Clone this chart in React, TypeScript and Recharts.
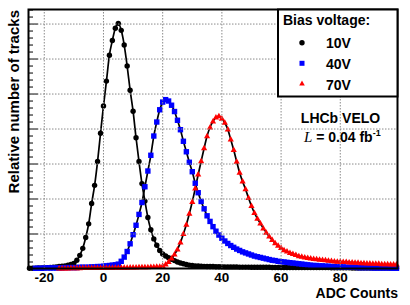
import React from 'react';
import { ComposedChart, Line, XAxis, YAxis } from 'recharts';

// ADC bin centres, -25 .. 99
const adcBins = Array.from({ length: 125 }, (_, i) => i - 25);
const xTicks = [-20, 0, 20, 40, 60, 80];
const yGrid = [1, 2, 3, 4, 5, 6, 7];
const yMinorTicks = Array.from({ length: 37 }, (_, i) => +(0.2 * (i + 1)).toFixed(1));

// 10V
const counts10V = [
  0.02, 0.02, 0.025, 0.03, 0.03, 0.035, 0.04, 0.045, 0.05, 0.06,
  0.07, 0.08, 0.09, 0.11, 0.13, 0.16, 0.25, 0.39, 0.59, 0.9,
  1.29, 1.87, 2.39, 3.07, 3.88, 4.66, 5.37, 6.11, 6.53, 6.88,
  7.02, 6.82, 6.4, 5.8, 5.11, 4.51, 3.75, 3.07, 2.44, 1.94,
  1.47, 1.12, 0.86, 0.68, 0.53, 0.43, 0.37, 0.32, 0.28, 0.24,
  0.2, 0.17, 0.15, 0.13, 0.11, 0.1, 0.09, 0.085, 0.08, 0.075,
  0.07, 0.07, 0.07, 0.065, 0.065, 0.065, 0.06, 0.06, 0.06, 0.06,
  0.06, 0.055, 0.055, 0.055, 0.055, 0.05, 0.05, 0.05, 0.05, 0.05,
  0.05, 0.05, 0.045, 0.045, 0.045, 0.045, 0.045, 0.045, 0.04, 0.04,
  0.04, 0.04, 0.04, 0.04, 0.04, 0.04, 0.04, 0.04, 0.04, 0.04,
  0.04, 0.04, 0.035, 0.035, 0.035, 0.035, 0.035, 0.035, 0.035, 0.03,
  0.03, 0.03, 0.03, 0.03, 0.03, 0.03, 0.03, 0.03, 0.03, 0.03,
  0.03, 0.03, 0.025, 0.025, 0.025,
];

// 40V
const counts40V = [
  null, null, 0.02, 0.02, 0.02, 0.03, 0.03, 0.03, 0.03, 0.03,
  0.03, 0.03, 0.04, 0.04, 0.04, 0.04, 0.04, 0.05, 0.05, 0.05,
  0.05, 0.06, 0.06, 0.07, 0.07, 0.08, 0.09, 0.1, 0.11, 0.12,
  0.14, 0.22, 0.34, 0.5, 0.72, 0.98, 1.25, 1.56, 1.9, 2.35,
  2.8, 3.25, 3.8, 4.2, 4.55, 4.77, 4.84, 4.8, 4.68, 4.5,
  4.25, 3.98, 3.65, 3.35, 3.05, 2.78, 2.45, 2.18, 1.93, 1.72,
  1.52, 1.36, 1.21, 1.08, 0.97, 0.88, 0.8, 0.73, 0.67, 0.62,
  0.57, 0.53, 0.49, 0.46, 0.43, 0.4, 0.37, 0.35, 0.33, 0.31,
  0.29, 0.27, 0.25, 0.24, 0.22, 0.21, 0.2, 0.19, 0.18, 0.17,
  0.16, 0.15, 0.14, 0.13, 0.12, 0.11, 0.1, 0.1, 0.09, 0.09,
  0.08, 0.08, 0.07, 0.07, 0.06, 0.06, 0.06, 0.05, 0.05, 0.05,
  0.05, 0.04, 0.04, 0.04, 0.04, 0.04, 0.03, 0.03, 0.03, 0.03,
  0.03, 0.03, 0.03, 0.02, 0.02,
];

// 70V
const counts70V = [
  null, null, null, null, null, null, null, null, null, null,
  0.02, 0.02, 0.02, 0.02, 0.025, 0.025, 0.025, 0.025, 0.03, 0.03,
  0.03, 0.03, 0.03, 0.03, 0.03, 0.035, 0.035, 0.035, 0.035, 0.04,
  0.04, 0.04, 0.04, 0.04, 0.045, 0.045, 0.045, 0.05, 0.05, 0.05,
  0.055, 0.06, 0.06, 0.065, 0.07, 0.09, 0.13, 0.2, 0.3, 0.42,
  0.56, 0.76, 1.0, 1.27, 1.58, 1.92, 2.3, 2.7, 3.08, 3.45,
  3.8, 4.05, 4.22, 4.33, 4.37, 4.3, 4.18, 3.99, 3.7, 3.4,
  3.07, 2.75, 2.5, 2.28, 2.03, 1.8, 1.6, 1.44, 1.3, 1.16,
  1.04, 0.93, 0.83, 0.74, 0.67, 0.6, 0.54, 0.5, 0.46, 0.43,
  0.4, 0.37, 0.35, 0.33, 0.32, 0.3, 0.29, 0.28, 0.27, 0.26,
  0.25, 0.24, 0.23, 0.22, 0.21, 0.21, 0.2, 0.2, 0.19, 0.19,
  0.18, 0.18, 0.17, 0.17, 0.16, 0.16, 0.15, 0.15, 0.15, 0.14,
  0.14, 0.14, 0.13, 0.13, 0.13,
];

// ranges covered by the fitted curves
const fitRange40V = [5, 66];
const fitRange70V = [20, 88];

const inRange = (x: number, r: number[]) => x >= r[0] && x <= r[1];

const data = adcBins.map((adc, i) => ({
  adc,
  v10: counts10V[i],
  v40: counts40V[i],
  v70: counts70V[i],
  fit10: counts10V[i],
  fit40: inRange(adc, fitRange40V) ? counts40V[i] : null,
  fit70: inRange(adc, fitRange70V) ? counts70V[i] : null,
}));

const W = 410;
const H = 305;
const MARGIN = { top: 9, right: 12, left: 27, bottom: 0 };
const Y_AXIS_W = 1;
const X_AXIS_H = 36;
const X_DOMAIN = [-25.5, 99.5];
const Y_DOMAIN = [0, 7.43];

// plot box, used for the dotted grid
const plotL = MARGIN.left + Y_AXIS_W;
const plotT = MARGIN.top;
const plotW = W - plotL - MARGIN.right;
const plotH = H - MARGIN.top - MARGIN.bottom - X_AXIS_H;
const gx = (v: number) => plotL + ((v - X_DOMAIN[0]) / (X_DOMAIN[1] - X_DOMAIN[0])) * plotW;
const gy = (v: number) => plotT + plotH - ((v - Y_DOMAIN[0]) / (Y_DOMAIN[1] - Y_DOMAIN[0])) * plotH;

const FONT = '"Liberation Sans", Arial, Helvetica, sans-serif';

const renderCircle = (p: any) => {
  if (p.value == null || p.cy == null) return <g key={`c${p.index}`} />;
  return <circle key={`c${p.index}`} cx={p.cx} cy={p.cy} r={2.7} fill="#000" />;
};
const renderSquare = (p: any) => {
  if (p.value == null || p.cy == null) return <g key={`s${p.index}`} />;
  return <rect key={`s${p.index}`} x={p.cx - 2.7} y={p.cy - 2.7} width={5.4} height={5.4} fill="#0000ff" />;
};
const renderTriangle = (p: any) => {
  if (p.value == null || p.cy == null) return <g key={`t${p.index}`} />;
  const { cx, cy } = p;
  return <polygon key={`t${p.index}`} points={`${cx},${cy - 3.4} ${cx - 3.1},${cy + 2.1} ${cx + 3.1},${cy + 2.1}`} fill="#ff0000" />;
};

// inward ticks on the left frame edge, longer on the grid values
const YTick = (props: any) => {
  const { x, y, payload } = props;
  const major = Math.abs(payload.value - Math.round(payload.value)) < 0.01;
  return <line x1={x} x2={x + (major ? 10 : 5)} y1={y} y2={y} stroke="#000" strokeWidth={1} />;
};

const App = () => {
  return (
    <div style={{ position: 'absolute', left: 0, top: 0, width: W, height: H, background: '#fff' }}>
      <ComposedChart width={W} height={H} data={data} margin={MARGIN}>
        <XAxis
          dataKey="adc"
          type="number"
          domain={X_DOMAIN}
          ticks={xTicks}
          axisLine={false}
          tickLine={false}
          tickSize={0}
          tickMargin={3}
          height={X_AXIS_H}
          tick={{ fill: '#000', fontSize: 13.5, fontWeight: 'bold', fontFamily: FONT }}
        />
        <YAxis
          type="number"
          domain={Y_DOMAIN}
          ticks={yMinorTicks}
          interval={0}
          width={Y_AXIS_W}
          axisLine={false}
          tickLine={false}
          tickSize={0}
          tickMargin={0}
          tick={<YTick />}
        />
        <Line dataKey="v10" stroke="none" dot={renderCircle} activeDot={false} isAnimationActive={false} />
        <Line dataKey="fit10" type="monotone" stroke="#000" strokeWidth={1.7} dot={false} activeDot={false} isAnimationActive={false} />
        <Line dataKey="v40" stroke="none" dot={renderSquare} activeDot={false} isAnimationActive={false} />
        <Line dataKey="fit40" type="monotone" stroke="#000" strokeWidth={1.7} dot={false} activeDot={false} isAnimationActive={false} />
        <Line dataKey="v70" stroke="none" dot={renderTriangle} activeDot={false} isAnimationActive={false} />
        <Line dataKey="fit70" type="monotone" stroke="#000" strokeWidth={1.7} dot={false} activeDot={false} isAnimationActive={false} />
      </ComposedChart>
      <svg width={W} height={H} style={{ position: 'absolute', left: 0, top: 0, pointerEvents: 'none' }}>
        <g stroke="#8a8a8a" strokeWidth={1} strokeDasharray="1.5 1.5" fill="none">
          {xTicks.map((v) => (
            <line key={`gx${v}`} x1={gx(v)} x2={gx(v)} y1={plotT} y2={plotT + plotH} />
          ))}
          {yGrid.map((v) => (
            <line key={`gy${v}`} x1={plotL} x2={plotL + plotW} y1={gy(v)} y2={gy(v)} />
          ))}
        </g>
        <rect x={28.5} y={9.5} width={369} height={259} fill="none" stroke="#000" strokeWidth={2} />
        <g fontFamily={FONT} fontWeight="bold" fontSize={14} fill="#000">
          <rect x={278} y={9.5} width={119.5} height={87} fill="#fff" stroke="#000" strokeWidth={2} />
          <text x={283} y={25}>Bias voltage:</text>
          <circle cx={302} cy={42.7} r={2.7} fill="#000" />
          <text x={326} y={47.5}>10V</text>
          <rect x={299.5} y={60.8} width={5} height={5} fill="#0000ff" />
          <text x={326} y={68.5}>40V</text>
          <polygon points="302,80.5 299.2,85.5 304.8,85.5" fill="#ff0000" />
          <text x={326} y={90}>70V</text>
          <text x={340.5} y={122.7} textAnchor="middle">LHCb VELO</text>
          <text x={304} y={141.7}>
            <tspan fontFamily='"Liberation Serif", "Times New Roman", serif' fontStyle="italic" fontWeight="normal" fontSize={15}>L</tspan>
            <tspan> = 0.04 fb</tspan>
            <tspan fontSize={9} dy={-6}>-1</tspan>
          </text>
          <text x={398} y={297.5} textAnchor="end">ADC Counts</text>
          <text x={18.5} y={10} textAnchor="end" fontSize={15} transform="rotate(-90 18.5 10)">Relative number of tracks</text>
        </g>
      </svg>
    </div>
  );
};

export default App;
